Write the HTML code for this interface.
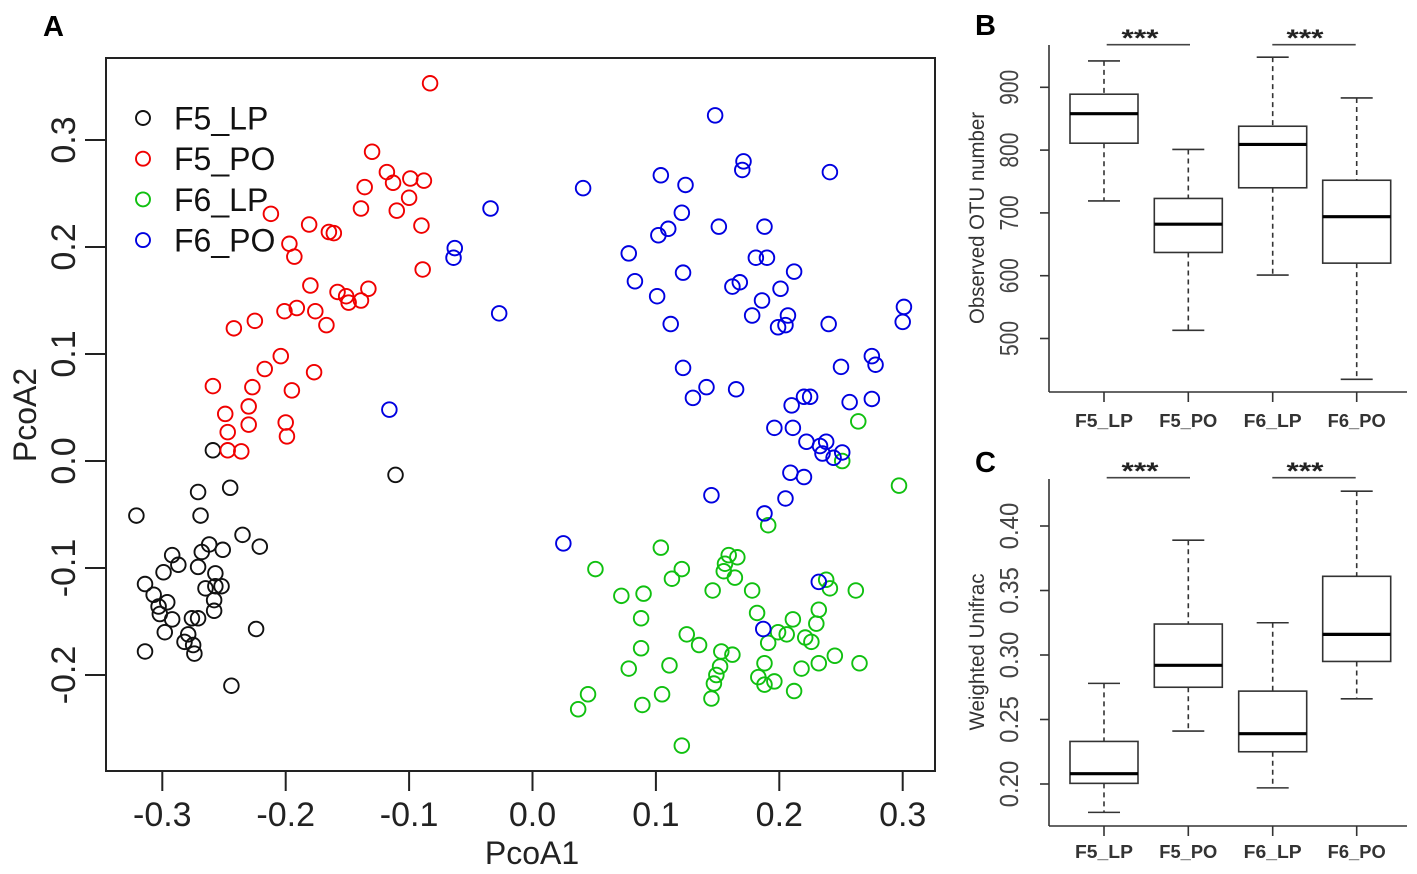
<!DOCTYPE html>
<html><head><meta charset="utf-8"><style>
html,body{margin:0;padding:0;background:#fff;}
svg{display:block;font-family:"Liberation Sans",Arial,sans-serif;}
</style></head><body>
<svg id="fig" width="1417" height="874" viewBox="0 0 1417 874" xmlns="http://www.w3.org/2000/svg">
<rect x="0" y="0" width="1417" height="874" fill="#fff"/>
<text x="43" y="36" font-size="29" font-weight="bold">A</text>
<text x="975" y="35" font-size="29" font-weight="bold">B</text>
<text x="975" y="472" font-size="29" font-weight="bold">C</text>
<rect x="106" y="58" width="829" height="713" fill="none" stroke="#222" stroke-width="2"/>
<g id="pts"></g>
<g id="axA"></g>
<text x="532" y="864" font-size="32" text-anchor="middle" fill="#222">PcoA1</text>
<text transform="translate(36,415) rotate(-90)" font-size="32" text-anchor="middle" fill="#222">PcoA2</text>
<g id="legend"></g>
<g id="boxB"></g>
<g id="boxC"></g>
</svg>
<script>
const NS="http://www.w3.org/2000/svg";
const groupNames=["F5_LP","F5_PO","F6_LP","F6_PO"];
const groupColors=["#111","#f00000","#10c010","#0000e0"];
const f5lpX=[-0.259,-0.271,-0.245,-0.321,-0.269,-0.235,-0.221,-0.292,-0.287,-0.299,-0.262,-0.268,-0.251,-0.271,-0.257,-0.314,-0.265,-0.257,-0.252,-0.307,-0.296,-0.303,-0.302,-0.258,-0.258,-0.292,-0.276,-0.271,-0.298,-0.224,-0.279,-0.282,-0.275,-0.274,-0.314,-0.244,-0.111];
const f5lpY=[0.010,-0.029,-0.025,-0.051,-0.051,-0.069,-0.080,-0.088,-0.097,-0.104,-0.078,-0.085,-0.083,-0.099,-0.105,-0.115,-0.119,-0.117,-0.117,-0.125,-0.132,-0.136,-0.143,-0.130,-0.140,-0.148,-0.147,-0.147,-0.160,-0.157,-0.162,-0.169,-0.172,-0.180,-0.178,-0.210,-0.013];
const f5poX=[-0.083,-0.130,-0.118,-0.113,-0.099,-0.088,-0.136,-0.100,-0.139,-0.110,-0.090,-0.212,-0.181,-0.165,-0.161,-0.197,-0.193,-0.089,-0.180,-0.158,-0.151,-0.149,-0.139,-0.133,-0.191,-0.201,-0.176,-0.167,-0.225,-0.242,-0.204,-0.217,-0.177,-0.259,-0.227,-0.195,-0.230,-0.249,-0.230,-0.200,-0.247,-0.199,-0.247,-0.236];
const f5poY=[0.353,0.289,0.270,0.260,0.264,0.262,0.256,0.246,0.236,0.234,0.220,0.231,0.221,0.214,0.213,0.203,0.191,0.179,0.164,0.158,0.154,0.148,0.150,0.161,0.143,0.140,0.140,0.127,0.131,0.124,0.098,0.086,0.083,0.070,0.069,0.066,0.051,0.044,0.034,0.036,0.027,0.023,0.010,0.009];
const f6lpX=[0.191,0.104,0.051,0.121,0.113,0.159,0.166,0.156,0.155,0.164,0.146,0.178,0.238,0.241,0.262,0.072,0.090,0.088,0.182,0.211,0.232,0.230,0.199,0.206,0.221,0.226,0.191,0.125,0.135,0.088,0.153,0.162,0.078,0.111,0.188,0.152,0.218,0.232,0.245,0.265,0.149,0.183,0.196,0.147,0.188,0.212,0.045,0.105,0.145,0.037,0.089,0.121,0.264,0.251,0.297];
const f6lpY=[-0.060,-0.081,-0.101,-0.101,-0.110,-0.088,-0.090,-0.096,-0.103,-0.109,-0.121,-0.121,-0.111,-0.119,-0.121,-0.126,-0.124,-0.147,-0.142,-0.148,-0.139,-0.152,-0.160,-0.162,-0.165,-0.169,-0.170,-0.162,-0.172,-0.175,-0.178,-0.181,-0.194,-0.191,-0.189,-0.192,-0.194,-0.189,-0.182,-0.189,-0.200,-0.202,-0.206,-0.208,-0.209,-0.215,-0.218,-0.218,-0.222,-0.232,-0.228,-0.266,0.037,0.000,-0.023];
const f6poX=[0.148,0.171,0.170,0.241,0.104,0.041,0.124,0.121,0.110,0.102,0.151,0.188,0.078,0.181,0.190,0.122,0.212,0.083,0.162,0.168,0.201,0.101,0.186,0.178,0.207,0.112,0.199,0.205,0.240,0.301,0.300,0.122,0.250,0.275,0.278,0.141,0.130,0.165,0.210,0.220,0.225,0.257,0.275,0.196,0.211,0.222,0.233,0.238,0.235,0.244,0.251,0.209,0.220,0.145,0.205,0.188,0.025,0.232,0.187,-0.034,-0.063,-0.064,-0.027,-0.116];
const f6poY=[0.323,0.280,0.272,0.270,0.267,0.255,0.258,0.232,0.217,0.211,0.219,0.219,0.194,0.190,0.190,0.176,0.177,0.168,0.163,0.167,0.161,0.154,0.150,0.136,0.136,0.128,0.125,0.127,0.128,0.144,0.130,0.087,0.088,0.098,0.090,0.069,0.059,0.067,0.052,0.060,0.060,0.055,0.058,0.031,0.031,0.018,0.014,0.018,0.007,0.003,0.008,-0.011,-0.015,-0.032,-0.035,-0.049,-0.077,-0.113,-0.157,0.236,0.199,0.190,0.138,0.048];
const xTicks=[-0.3,-0.2,-0.1,0.0,0.1,0.2,0.3];
const yTicks=[-0.2,-0.1,0.0,0.1,0.2,0.3];

const otuWhiskLo=[719,513,601,435];
const otuQ1=[811,637,740,620];
const otuMed=[858,682,809,694];
const otuQ3=[889,723,838,752];
const otuWhiskHi=[942,801,948,883];
const otuTicks=[500,600,700,800,900];
const uniWhiskLo=[0.178,0.241,0.197,0.266];
const uniQ1=[0.2005,0.275,0.225,0.295];
const uniMed=[0.208,0.292,0.239,0.316];
const uniQ3=[0.233,0.324,0.272,0.361];
const uniWhiskHi=[0.278,0.389,0.325,0.427];
const uniTicks=[0.20,0.25,0.30,0.35,0.40];

function mk(tag,attrs,parent){const e=document.createElementNS(NS,tag);for(const k in attrs)e.setAttribute(k,attrs[k]);parent.appendChild(e);return e;}
const sx=v=>532.5+v*1234;
const sy=v=>461-v*1070;

const pts=document.getElementById('pts');
const series=[[f5lpX,f5lpY],[f5poX,f5poY],[f6lpX,f6lpY],[f6poX,f6poY]];
series.forEach((s,gi)=>{
  const g=mk('g',{},pts);
  
  
  s[0].forEach((x,i)=>{
    const c=mk('circle',{cx:sx(x),cy:sy(s[1][i]),r:7.3,fill:'none',stroke:groupColors[gi],'stroke-width':1.9},g);
    
    
  });
});

const ax=document.getElementById('axA');
xTicks.forEach(t=>{
  const l=mk('line',{x1:sx(t),x2:sx(t),y1:771,y2:791,stroke:'#222','stroke-width':2},ax);
  
  
  const tx=mk('text',{x:sx(t),y:826,'font-size':34,'text-anchor':'middle',fill:'#222'},ax);
  tx.textContent=t.toFixed(1).replace('-0.0','0.0');
  
  
});
yTicks.forEach(t=>{
  const l=mk('line',{x1:85,x2:106,y1:sy(t),y2:sy(t),stroke:'#222','stroke-width':2},ax);
  
  
  const tx=mk('text',{transform:`translate(75,${sy(t)}) rotate(-90)`,'font-size':34,'text-anchor':'middle',fill:'#222'},ax);
  tx.textContent=t.toFixed(1).replace('-0.0','0.0');
  
  
});

const leg=document.getElementById('legend');
groupNames.forEach((n,i)=>{
  const y=118+i*40.7;
  const c=mk('circle',{cx:143,cy:y,r:7,fill:'none',stroke:groupColors[i],'stroke-width':1.9},leg);
  
  
  const t=mk('text',{x:174,y:y+11.5,'font-size':32,fill:'#111'},leg);
  t.textContent=n;
  
  
});

function boxplot(gid,lo,q1,med,q3,hi,ticks,yf,axTop,axBot,title,titleY,tickFmt,labY,sigY,starY){
  const g=document.getElementById(gid);
  const cx=[1104,1188.3,1272.7,1356.7];
  const a1=mk('line',{x1:1049,x2:1049,y1:axTop,y2:axBot,stroke:'#333','stroke-width':1.6},g);
  
  
  const a2=mk('line',{x1:1049,x2:1407,y1:axBot,y2:axBot,stroke:'#333','stroke-width':1.6},g);
  
  
  ticks.forEach(t=>{
    const l=mk('line',{x1:1040,x2:1049,y1:yf(t),y2:yf(t),stroke:'#333','stroke-width':1.6},g);
    
    
    const s=tickFmt(t);
    const tx=mk('text',{transform:`translate(1018,${yf(t)}) rotate(-90)`,'font-size':26,'text-anchor':'middle',fill:'#444',textLength:s.length*11.7,lengthAdjust:'spacingAndGlyphs'},g);
    tx.textContent=s;
    
    
  });
  const tt=mk('text',{transform:`translate(984,${titleY[0]}) rotate(-90)`,'font-size':21,'text-anchor':'middle',fill:'#333',textLength:titleY[1],lengthAdjust:'spacingAndGlyphs'},g);
  tt.textContent=title;
  
  
  groupNames.forEach((n,i)=>{
    const x=cx[i];
    const tk=mk('line',{x1:x,x2:x,y1:axBot,y2:axBot+10,stroke:'#333','stroke-width':1.6},g);
    
    
    const lb=mk('text',{x:x,y:labY,'font-size':18,'font-weight':'bold','text-anchor':'middle',fill:'#333',textLength:58,lengthAdjust:'spacingAndGlyphs'},g);
    lb.textContent=n;
    
    
    const w1=mk('line',{x1:x,x2:x,y1:yf(hi[i]),y2:yf(q3[i]),stroke:'#333','stroke-width':1.6,'stroke-dasharray':'5,4'},g);
    
    
    const w2=mk('line',{x1:x,x2:x,y1:yf(q1[i]),y2:yf(lo[i]),stroke:'#333','stroke-width':1.6,'stroke-dasharray':'5,4'},g);
    
    
    const c1=mk('line',{x1:x-16,x2:x+16,y1:yf(hi[i]),y2:yf(hi[i]),stroke:'#333','stroke-width':1.6},g);
    
    
    const c2=mk('line',{x1:x-16,x2:x+16,y1:yf(lo[i]),y2:yf(lo[i]),stroke:'#333','stroke-width':1.6},g);
    
    
    const b=mk('rect',{x:x-34,y:yf(q3[i]),width:68,height:yf(q1[i])-yf(q3[i]),fill:'#fff',stroke:'#333','stroke-width':1.6},g);
    
    
    const m=mk('line',{x1:x-34,x2:x+34,y1:yf(med[i]),y2:yf(med[i]),stroke:'#000','stroke-width':3.2},g);
    
    
  });
  [[1106.7,1190,1148],[1272.3,1355.7,1313]].forEach(p=>{
    const l=mk('line',{x1:p[0],x2:p[1],y1:sigY,y2:sigY,stroke:'#444','stroke-width':1.6},g);
    
    
    const s=mk('text',{x:p[2]-8,y:starY,'font-size':24,'font-weight':'bold','text-anchor':'middle',fill:'#222',textLength:37,lengthAdjust:'spacingAndGlyphs'},g);
    s.textContent='***';
    
    
  });
}
boxplot('boxB',otuWhiskLo,otuQ1,otuMed,otuQ3,otuWhiskHi,otuTicks,v=>87.3+(900-v)*0.628,45,392,'Observed OTU number',[218,212],t=>String(t),427,44.7,46);
boxplot('boxC',uniWhiskLo,uniQ1,uniMed,uniQ3,uniWhiskHi,uniTicks,v=>784-(v-0.2)*1290,479,826,'Weighted Unifrac',[652,157],t=>t.toFixed(2),858,477.7,479);
</script>
</body></html>
